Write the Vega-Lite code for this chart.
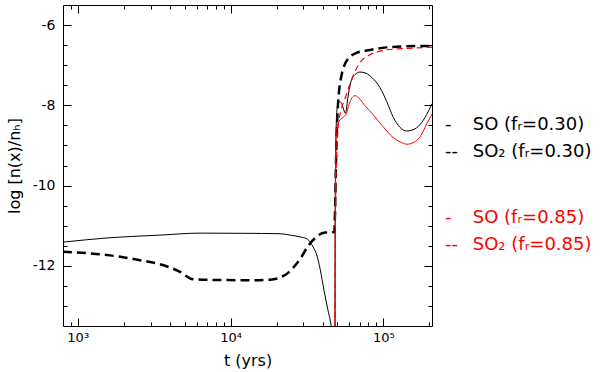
{
  "$schema": "https://vega.github.io/schema/vega-lite/v6.json",
  "padding": {"left": 5, "top": 4, "right": 0, "bottom": 0},
  "background": "white",
  "config": {
    "font": "DejaVu Sans",
    "axis": {"grid": false, "domain": false, "tickColor": "black", "labelColor": "black", "titleColor": "black", "labelFont": "DejaVu Sans", "titleFont": "DejaVu Sans", "titleFontWeight": "normal"}
  },
  "datasets": {
    "curves": [
      {"s": "SO30", "part": "a", "t": 800, "v": -11.41},
      {"s": "SO30", "part": "a", "t": 1627, "v": -11.30},
      {"s": "SO30", "part": "a", "t": 3458, "v": -11.235},
      {"s": "SO30", "part": "a", "t": 6326, "v": -11.185},
      {"s": "SO30", "part": "a", "t": 12000, "v": -11.19},
      {"s": "SO30", "part": "a", "t": 21120, "v": -11.20},
      {"s": "SO30", "part": "a", "t": 24550, "v": -11.235},
      {"s": "SO30", "part": "a", "t": 28540, "v": -11.28},
      {"s": "SO30", "part": "a", "t": 31720, "v": -11.33},
      {"s": "SO30", "part": "a", "t": 33180, "v": -11.41},
      {"s": "SO30", "part": "a", "t": 34720, "v": -11.53},
      {"s": "SO30", "part": "a", "t": 36870, "v": -11.76},
      {"s": "SO30", "part": "a", "t": 38590, "v": -12.08},
      {"s": "SO30", "part": "a", "t": 40990, "v": -12.63},
      {"s": "SO30", "part": "a", "t": 43520, "v": -13.12},
      {"s": "SO30", "part": "a", "t": 45530, "v": -13.49},
      {"s": "SO30", "part": "a", "t": 46500, "v": -13.8},
      {"s": "SO30", "part": "b", "t": 48300, "v": -13.8},
      {"s": "SO30", "part": "b", "t": 48400, "v": -11.5},
      {"s": "SO30", "part": "b", "t": 48700, "v": -9.5},
      {"s": "SO30", "part": "b", "t": 49200, "v": -8.5},
      {"s": "SO30", "part": "b", "t": 49760, "v": -8.1},
      {"s": "SO30", "part": "b", "t": 51700, "v": -7.905},
      {"s": "SO30", "part": "b", "t": 53660, "v": -7.98},
      {"s": "SO30", "part": "b", "t": 56560, "v": -8.20},
      {"s": "SO30", "part": "b", "t": 58740, "v": -7.78},
      {"s": "SO30", "part": "b", "t": 61460, "v": -7.41},
      {"s": "SO30", "part": "b", "t": 65270, "v": -7.235},
      {"s": "SO30", "part": "b", "t": 70390, "v": -7.17},
      {"s": "SO30", "part": "b", "t": 77070, "v": -7.20},
      {"s": "SO30", "part": "b", "t": 84340, "v": -7.31},
      {"s": "SO30", "part": "b", "t": 95140, "v": -7.56},
      {"s": "SO30", "part": "b", "t": 105240, "v": -7.905},
      {"s": "SO30", "part": "b", "t": 116300, "v": -8.30},
      {"s": "SO30", "part": "b", "t": 128630, "v": -8.55},
      {"s": "SO30", "part": "b", "t": 142300, "v": -8.64},
      {"s": "SO30", "part": "b", "t": 156500, "v": -8.61},
      {"s": "SO30", "part": "b", "t": 173900, "v": -8.48},
      {"s": "SO30", "part": "b", "t": 192300, "v": -8.23},
      {"s": "SO30", "part": "b", "t": 208300, "v": -7.96},

      {"s": "SO2_30", "part": "a", "t": 800, "v": -11.65},
      {"s": "SO2_30", "part": "a", "t": 1627, "v": -11.74},
      {"s": "SO2_30", "part": "a", "t": 2556, "v": -11.86},
      {"s": "SO2_30", "part": "a", "t": 3458, "v": -11.96},
      {"s": "SO2_30", "part": "a", "t": 4672, "v": -12.15},
      {"s": "SO2_30", "part": "a", "t": 5683, "v": -12.335},
      {"s": "SO2_30", "part": "a", "t": 7341, "v": -12.35},
      {"s": "SO2_30", "part": "a", "t": 13416, "v": -12.36},
      {"s": "SO2_30", "part": "a", "t": 18140, "v": -12.345},
      {"s": "SO2_30", "part": "a", "t": 22740, "v": -12.23},
      {"s": "SO2_30", "part": "a", "t": 25650, "v": -12.05},
      {"s": "SO2_30", "part": "a", "t": 28540, "v": -11.83},
      {"s": "SO2_30", "part": "a", "t": 32150, "v": -11.51},
      {"s": "SO2_30", "part": "a", "t": 35730, "v": -11.31},
      {"s": "SO2_30", "part": "a", "t": 41540, "v": -11.17},
      {"s": "SO2_30", "part": "a", "t": 47800, "v": -11.16},
      {"s": "SO2_30", "part": "a", "t": 48400, "v": -10.5},
      {"s": "SO2_30", "part": "a", "t": 48900, "v": -9.6},
      {"s": "SO2_30", "part": "a", "t": 49500, "v": -8.8},
      {"s": "SO2_30", "part": "a", "t": 50300, "v": -8.1},
      {"s": "SO2_30", "part": "a", "t": 51300, "v": -7.65},
      {"s": "SO2_30", "part": "a", "t": 52970, "v": -7.3},
      {"s": "SO2_30", "part": "a", "t": 55420, "v": -7.02},
      {"s": "SO2_30", "part": "a", "t": 58830, "v": -6.84},
      {"s": "SO2_30", "part": "a", "t": 65200, "v": -6.71},
      {"s": "SO2_30", "part": "a", "t": 81820, "v": -6.62},
      {"s": "SO2_30", "part": "a", "t": 105240, "v": -6.556},
      {"s": "SO2_30", "part": "a", "t": 142300, "v": -6.53},
      {"s": "SO2_30", "part": "a", "t": 208300, "v": -6.52},

      {"s": "SO85", "part": "a", "t": 48300, "v": -13.8},
      {"s": "SO85", "part": "a", "t": 48400, "v": -11.5},
      {"s": "SO85", "part": "a", "t": 48700, "v": -9.6},
      {"s": "SO85", "part": "a", "t": 49400, "v": -8.6},
      {"s": "SO85", "part": "a", "t": 51310, "v": -8.40},
      {"s": "SO85", "part": "a", "t": 54490, "v": -8.30},
      {"s": "SO85", "part": "a", "t": 57430, "v": -8.20},
      {"s": "SO85", "part": "a", "t": 59630, "v": -7.98},
      {"s": "SO85", "part": "a", "t": 62400, "v": -7.81},
      {"s": "SO85", "part": "a", "t": 65270, "v": -7.76},
      {"s": "SO85", "part": "a", "t": 68830, "v": -7.81},
      {"s": "SO85", "part": "a", "t": 74760, "v": -7.98},
      {"s": "SO85", "part": "a", "t": 85620, "v": -8.23},
      {"s": "SO85", "part": "a", "t": 99540, "v": -8.53},
      {"s": "SO85", "part": "a", "t": 115750, "v": -8.80},
      {"s": "SO85", "part": "a", "t": 128630, "v": -8.91},
      {"s": "SO85", "part": "a", "t": 142950, "v": -8.97},
      {"s": "SO85", "part": "a", "t": 158800, "v": -8.92},
      {"s": "SO85", "part": "a", "t": 176500, "v": -8.75},
      {"s": "SO85", "part": "a", "t": 193200, "v": -8.45},
      {"s": "SO85", "part": "a", "t": 208300, "v": -8.22},

      {"s": "SO2_85", "part": "a", "t": 48300, "v": -13.8},
      {"s": "SO2_85", "part": "a", "t": 48500, "v": -11.5},
      {"s": "SO2_85", "part": "a", "t": 48900, "v": -10.0},
      {"s": "SO2_85", "part": "a", "t": 49500, "v": -9.3},
      {"s": "SO2_85", "part": "a", "t": 50690, "v": -8.53},
      {"s": "SO2_85", "part": "a", "t": 52970, "v": -8.11},
      {"s": "SO2_85", "part": "a", "t": 56220, "v": -7.83},
      {"s": "SO2_85", "part": "a", "t": 60540, "v": -7.46},
      {"s": "SO2_85", "part": "a", "t": 65200, "v": -7.16},
      {"s": "SO2_85", "part": "a", "t": 70200, "v": -6.94},
      {"s": "SO2_85", "part": "a", "t": 81820, "v": -6.74},
      {"s": "SO2_85", "part": "a", "t": 105240, "v": -6.62},
      {"s": "SO2_85", "part": "a", "t": 144500, "v": -6.58},
      {"s": "SO2_85", "part": "a", "t": 208300, "v": -6.55}
    ],
    "legend": [
      {"row": 0, "grp": "0.30", "mk": "-", "lab": "SO (fᵣ=0.30)"},
      {"row": 1, "grp": "0.30", "mk": "--", "lab": "SO₂ (fᵣ=0.30)"},
      {"row": 3.5, "grp": "0.85", "mk": "-", "lab": "SO (fᵣ=0.85)"},
      {"row": 4.5, "grp": "0.85", "mk": "--", "lab": "SO₂ (fᵣ=0.85)"}
    ]
  },
  "spacing": 12,
  "hconcat": [
    {
      "width": 369,
      "height": 321,
      "view": {"stroke": "black", "strokeWidth": 1},
      "data": {"name": "curves"},
      "resolve": {"axis": {"x": "independent", "y": "independent"}},
      "layer": [
        {
          "transform": [{"filter": "datum.s == 'SO30'"}],
          "mark": {"type": "line", "clip": true, "color": "black", "strokeWidth": 1, "interpolate": "monotone"},
          "encoding": {
            "x": {"field": "t", "type": "quantitative", "scale": {"type": "log", "domain": [801, 208300], "nice": false},
              "axis": {"orient": "bottom", "title": "t (yrs)", "titleFontSize": 16, "titlePadding": 4,
                "values": [900, 1000, 2000, 3000, 4000, 5000, 6000, 7000, 8000, 9000, 10000, 20000, 30000, 40000, 50000, 60000, 70000, 80000, 90000, 100000, 200000],
                "tickSize": {"condition": {"test": "datum.value == 1000 || datum.value == 10000 || datum.value == 100000", "value": -8}, "value": -4},
                "labelExpr": "datum.value == 1000 ? '10³' : datum.value == 10000 ? '10⁴' : datum.value == 100000 ? '10⁵' : ''",
                "labelFontSize": 13, "labelPadding": 13, "labelOverlap": false}},
            "y": {"field": "v", "type": "quantitative", "scale": {"domain": [-13.5, -5.5], "nice": false, "zero": false},
              "axis": {"orient": "left", "title": "log [n(x)/nₕ]", "titleFontSize": 16, "titlePadding": 10,
                "values": [-13, -12.5, -12, -11.5, -11, -10.5, -10, -9.5, -9, -8.5, -8, -7.5, -7, -6.5, -6],
                "tickSize": {"condition": {"test": "datum.value % 2 == 0", "value": -8}, "value": -4},
                "labelExpr": "datum.value % 2 == 0 ? '-' + abs(datum.value) : ''",
                "labelFontSize": 14, "labelPadding": 16, "labelOverlap": false}},
            "detail": {"field": "part"}
          }
        },
        {
          "transform": [{"filter": "datum.s == 'SO2_30'"}],
          "mark": {"type": "line", "clip": true, "color": "black", "strokeWidth": 2.5, "strokeDash": [9, 5], "interpolate": "monotone"},
          "encoding": {
            "x": {"field": "t", "type": "quantitative",
              "axis": {"orient": "top", "title": null, "labels": false,
                "values": [900, 1000, 2000, 3000, 4000, 5000, 6000, 7000, 8000, 9000, 10000, 20000, 30000, 40000, 50000, 60000, 70000, 80000, 90000, 100000, 200000],
                "tickSize": {"condition": {"test": "datum.value == 1000 || datum.value == 10000 || datum.value == 100000", "value": -8}, "value": -4}}},
            "y": {"field": "v", "type": "quantitative",
              "axis": {"orient": "right", "title": null, "labels": false,
                "values": [-13, -12.5, -12, -11.5, -11, -10.5, -10, -9.5, -9, -8.5, -8, -7.5, -7, -6.5, -6],
                "tickSize": {"condition": {"test": "datum.value % 2 == 0", "value": -8}, "value": -4}}}
          }
        },
        {
          "transform": [{"filter": "datum.s == 'SO85'"}],
          "mark": {"type": "line", "clip": true, "color": "#ff0000", "strokeWidth": 1, "interpolate": "monotone"},
          "encoding": {
            "x": {"field": "t", "type": "quantitative", "axis": null},
            "y": {"field": "v", "type": "quantitative", "axis": null}
          }
        },
        {
          "transform": [{"filter": "datum.s == 'SO2_85'"}],
          "mark": {"type": "line", "clip": true, "color": "#ff0000", "strokeWidth": 1.2, "strokeDash": [6, 4], "interpolate": "monotone"},
          "encoding": {
            "x": {"field": "t", "type": "quantitative", "axis": null},
            "y": {"field": "v", "type": "quantitative", "axis": null}
          }
        }
      ]
    },
    {
      "width": 150,
      "height": 321,
      "view": {"stroke": null},
      "data": {"name": "legend"},
      "encoding": {
        "y": {"field": "row", "type": "quantitative", "scale": {"domain": [-4.494, 7.528], "reverse": true, "nice": false, "zero": false}, "axis": null},
        "color": {"field": "grp", "type": "nominal", "scale": {"domain": ["0.30", "0.85"], "range": ["black", "#ff0000"]}, "legend": null}
      },
      "layer": [
        {
          "mark": {"type": "text", "align": "left", "baseline": "middle", "font": "DejaVu Sans", "fontSize": 18},
          "encoding": {
            "x": {"datum": 0, "type": "quantitative", "scale": {"domain": [0, 10], "nice": false, "zero": false}, "axis": null},
            "text": {"field": "mk"}
          }
        },
        {
          "mark": {"type": "text", "align": "left", "baseline": "middle", "font": "DejaVu Sans", "fontSize": 18},
          "encoding": {
            "x": {"datum": 1.85, "type": "quantitative", "axis": null},
            "text": {"field": "lab"}
          }
        }
      ]
    }
  ]
}
